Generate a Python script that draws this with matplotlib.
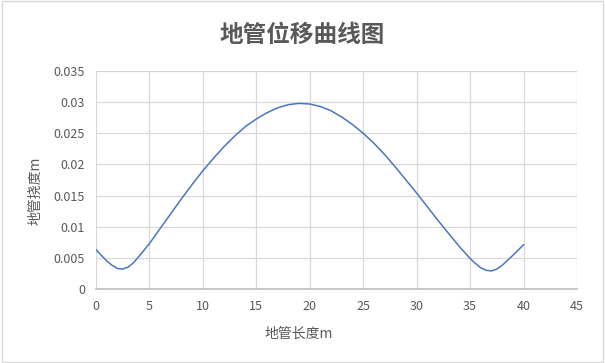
import matplotlib.pyplot as plt
from matplotlib.patches import Rectangle

plt.rcParams['font.family'] = ['Noto Sans CJK SC', 'DejaVu Sans']

# pipe length (m) and deflection (m)
length_m = [
    0, 1, 1.5, 2, 2.5, 3, 3.5, 4, 5, 6, 7, 8, 9,
    10, 11, 12, 13, 14, 15, 16, 17, 18, 19,
    20, 21, 22, 23, 24, 25, 26, 27, 28, 29,
    30, 31, 32, 33, 34, 35, 35.5, 36, 36.5, 37, 37.5, 38, 39, 40,
]
deflection_m = [
    0.0063, 0.0045, 0.0038, 0.0033, 0.0032, 0.0035, 0.0042, 0.0052, 0.0073, 0.0097,
    0.0121, 0.0145, 0.0168,
    0.0190, 0.0210, 0.0229, 0.0246, 0.0261, 0.0273, 0.0283, 0.0291, 0.0296, 0.0298,
    0.0297, 0.0293, 0.0286, 0.0276, 0.0264, 0.0250, 0.0234, 0.0216, 0.0196, 0.0175,
    0.0154, 0.0132, 0.0110, 0.0089, 0.0068, 0.0049, 0.0041, 0.0034, 0.0030, 0.0029,
    0.0032, 0.0038, 0.0054, 0.0071,
]
x_ticks = [0, 5, 10, 15, 20, 25, 30, 35, 40, 45]
y_ticks = [0, 0.005, 0.01, 0.015, 0.02, 0.025, 0.03, 0.035]
y_tick_labels = ['0', '0.005', '0.01', '0.015', '0.02', '0.025', '0.03', '0.035']

fig = plt.figure(figsize=(6.05, 3.63), dpi=100)
ax = fig.add_axes([0.1587, 0.2039, 0.795, 0.6005])

ax.plot(length_m, deflection_m, color='#4a76c0', linewidth=1.1)

ax.set_xlim(0, 45)
ax.set_ylim(0, 0.035)
ax.set_xticks(x_ticks)
ax.set_yticks(y_ticks)
ax.set_yticklabels(y_tick_labels)
ax.grid(True, color='#d9d9d9', linewidth=0.9)
ax.set_axisbelow(True)
for side in ['top', 'right', 'left']:
    ax.spines[side].set_visible(False)
ax.spines['bottom'].set_color('#bfbfbf')
ax.spines['bottom'].set_linewidth(1.2)
ax.tick_params(length=0, labelsize=9, colors='#595959', pad=8)

fig.text(0.5, 0.905, '地管位移曲线图', ha='center', va='center',
         fontsize=17, fontweight='bold', color='#595959')
fig.text(0.058, 0.474, '地管挠度m', rotation=90, ha='center', va='center',
         fontsize=10, color='#595959')
fig.text(0.493, 0.08, '地管长度m', ha='center', va='center',
         fontsize=10, color='#595959')

fig.patches.append(Rectangle((0.003, 0.004), 0.994, 0.992, transform=fig.transFigure,
                             fill=False, edgecolor='#d9d9d9', linewidth=1))

fig.savefig('out.png', dpi=100)
